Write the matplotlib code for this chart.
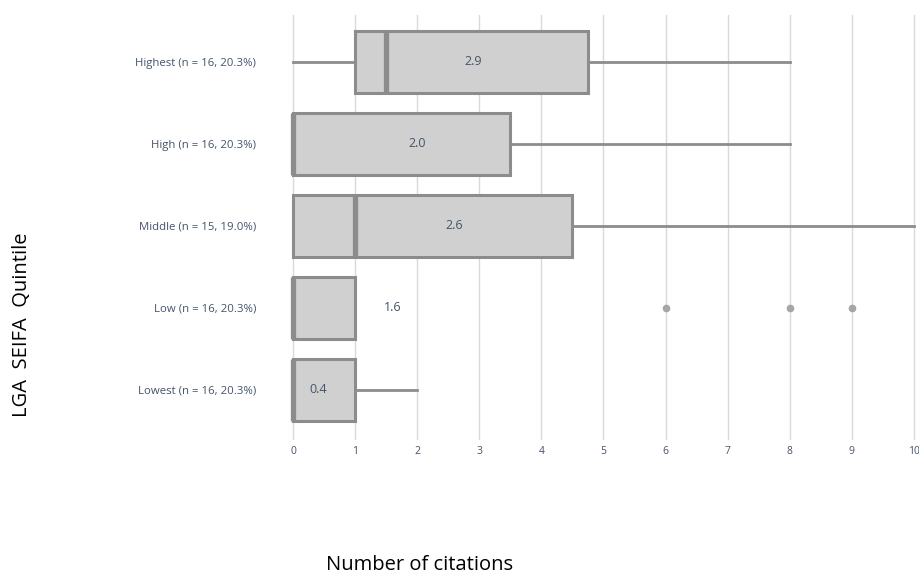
#!/usr/bin/env python3
import matplotlib
matplotlib.use('Agg')
import matplotlib.pyplot as plt

# Quintile data, bottom to top
labels = ['Lowest (n = 16, 20.3%)', 'Low (n = 16, 20.3%)',
          'Middle (n = 15, 19.0%)', 'High (n = 16, 20.3%)',
          'Highest (n = 16, 20.3%)']
whis_lo = [0, 0, 0, 0, 0]
q1 = [0, 0, 0, 0, 1]
median = [0, 0, 1, 0, 1.5]
q3 = [1, 1, 4.5, 3.5, 4.75]
whis_hi = [2, 1, 10, 8, 8]
fliers = [[], [6, 8, 9], [], [], []]
means = [0.4, 1.6, 2.6, 2.0, 2.9]

plt.rcParams['font.family'] = ['Open Sans', 'DejaVu Sans']

fig = plt.figure(figsize=(9.2, 5.78), dpi=100)
px = 62.1
x0 = 293
ax = fig.add_axes([(x0 - 0.15 * px) / 920, 1 - 440 / 578,
                   (920 - (x0 - 0.15 * px)) / 920, (440 - 15) / 578])

stats = []
for i in range(len(labels)):
    stats.append(dict(whislo=whis_lo[i], q1=q1[i], med=median[i], q3=q3[i],
                      whishi=whis_hi[i], fliers=fliers[i], mean=means[i]))

grey = '#8c8c8c'
ax.bxp(stats, positions=range(len(labels)), orientation='horizontal',
       widths=0.75, patch_artist=True, showcaps=False,
       boxprops=dict(facecolor='#d0d0d0', edgecolor=grey, linewidth=2.2),
       medianprops=dict(color=grey, linewidth=3.8, solid_capstyle='butt'),
       whiskerprops=dict(color=grey, linewidth=2),
       flierprops=dict(marker='o', markersize=4.5, markerfacecolor='#a6a6a6',
                       markeredgecolor='#a6a6a6'))

# Mean labels
for i, m in enumerate(means):
    ax.text(m, i, f'{m:.1f}', ha='center', va='center', fontsize=9,
            color='#44546a')

ax.set_xlim(-0.15, (920 - x0) / px)
ax.set_ylim(-0.61, 4.573)
ax.set_xticks(range(0, 11))
ax.set_yticks(range(len(labels)))
ax.set_yticklabels(labels)
ax.tick_params(axis='x', length=0, pad=4, labelsize=7.5, labelcolor='#44546a')
ax.tick_params(axis='y', length=0, pad=20, labelsize=8.2, labelcolor='#44546a')
ax.grid(axis='x', color='#d9d9d9', linewidth=1)
ax.set_axisbelow(True)
for s in ax.spines.values():
    s.set_visible(False)

fig.text(22 / 920, 1 - 325 / 578, 'LGA  SEIFA  Quintile', rotation=90,
         ha='center', va='center', fontsize=14.5, color='black')
fig.text(420 / 920, 1 - 565 / 578, 'Number of citations',
         ha='center', va='center', fontsize=14.5, color='black')

fig.savefig('out.png', dpi=100)
